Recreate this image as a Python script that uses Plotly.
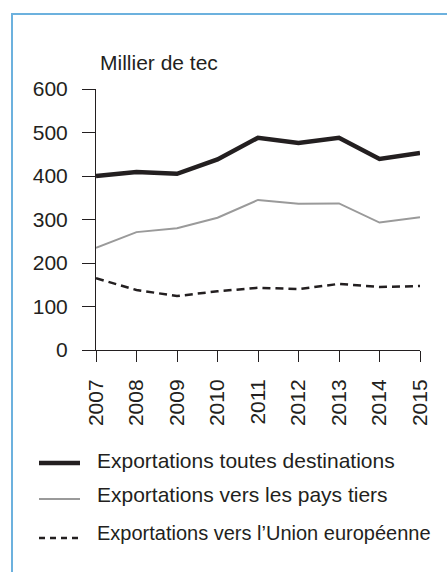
import plotly.graph_objects as go

# data (milliers de tec)
years = [2007, 2008, 2009, 2010, 2011, 2012, 2013, 2014, 2015]
total = [400, 409, 405, 438, 488, 476, 488, 439, 453]
pays_tiers = [235, 271, 280, 304, 345, 336, 337, 293, 305]
union_eu = [165, 138, 124, 135, 143, 140, 152, 145, 147]

y_ticks = [0, 100, 200, 300, 400, 500, 600]
legend_labels = [
    "Exportations toutes destinations",
    "Exportations vers les pays tiers",
    "Exportations vers l\u2019Union européenne",
]
legend_sizes = [21, 21, 20]

W, H = 447, 572
L, T = 96, 89
R = W - 420
B = H - 350
FONT = "Liberation Sans, Arial, sans-serif"
TEXT = "#231f20"
FRAME = "#6cb1de"


def px(x):
    # page pixel -> paper x
    return (x - L) / (W - L - R)


def py(y):
    # page pixel -> paper y
    return (H - B - y) / (H - T - B)


series = [
    (total, {"color": "#231f20", "width": 4.5}),
    (pays_tiers, {"color": "#9a9a9a", "width": 2}),
    (union_eu, {"color": "#231f20", "width": 2.5, "dash": "8px,5px"}),
]

fig = go.Figure()
for vals, line in series:
    fig.add_trace(go.Scatter(x=years, y=vals, mode="lines", line=line,
                             showlegend=False, hoverinfo="skip"))

shapes = [
    # light blue frame: only the top and left edges are in view
    dict(type="line", xref="paper", yref="paper",
         x0=px(11), x1=px(460), y0=py(14), y1=py(14),
         line={"color": FRAME, "width": 2}, layer="below"),
    dict(type="line", xref="paper", yref="paper",
         x0=px(12), x1=px(12), y0=py(13), y1=py(590),
         line={"color": FRAME, "width": 2}, layer="below"),
]
annotations = [
    dict(text="Millier de tec", xref="paper", yref="paper",
         x=px(98), y=py(62), xanchor="left", yanchor="middle",
         showarrow=False, font={"size": 21, "color": TEXT, "family": FONT}),
]

legend_y = [463, 499, 538]
legend_text_y = [460, 494, 533]
for (vals, line), label, size, ly, ty in zip(series, legend_labels, legend_sizes,
                                             legend_y, legend_text_y):
    seg = dict(line)
    if "dash" in seg:
        seg["dash"] = "6px,5px"
    shapes.append(dict(type="line", xref="paper", yref="paper",
                       x0=px(39), x1=px(80), y0=py(ly), y1=py(ly), line=seg))
    annotations.append(dict(text=label, xref="paper", yref="paper",
                            x=px(95), y=py(ty), xanchor="left", yanchor="middle",
                            showarrow=False,
                            font={"size": size, "color": TEXT, "family": FONT}))

fig.update_layout(
    width=W, height=H,
    margin={"l": L, "r": R, "t": T, "b": B, "pad": 0},
    paper_bgcolor="white", plot_bgcolor="white",
    font={"family": FONT, "size": 21, "color": TEXT},
    shapes=shapes, annotations=annotations,
    xaxis=dict(range=[2007, 2015], tickvals=years, ticktext=[str(y) for y in years],
               tickangle=-90, showgrid=False, zeroline=False,
               showline=True, linecolor="#231f20", linewidth=1,
               ticks="outside", ticklen=11, tickwidth=1, tickcolor="#231f20",
               tickfont={"size": 21, "color": TEXT}, ticklabelstandoff=9),
    yaxis=dict(range=[0, 600], tickvals=y_ticks, showgrid=False, zeroline=False,
               showline=True, linecolor="#231f20", linewidth=1,
               ticks="outside", ticklen=13, tickwidth=1, tickcolor="#231f20",
               tickfont={"size": 21, "color": TEXT}, ticklabelstandoff=10),
)

# drop the default page margin so the figure sits in the window corner
fig.write_html("out.html",
               config={"displayModeBar": False},
               post_script="document.body.style.margin='0';"
                           "document.body.style.overflow='hidden';")
